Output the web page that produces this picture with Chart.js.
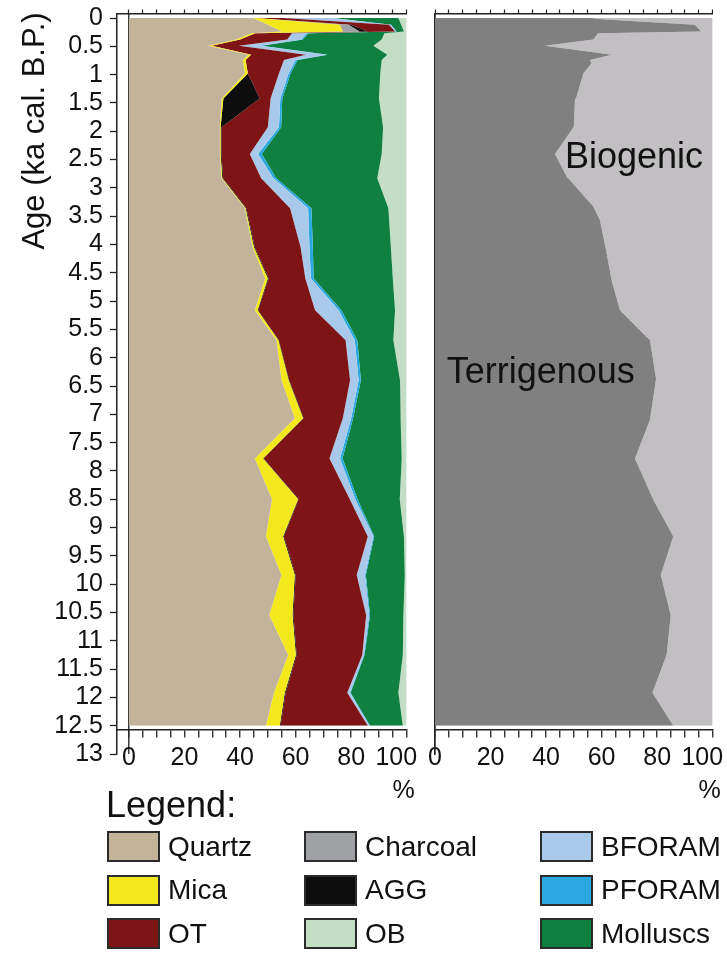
<!DOCTYPE html>
<html>
<head>
<meta charset="utf-8">
<title>Sediment composition vs age</title>
<script src="https://cdn.jsdelivr.net/npm/chart.js@4/dist/chart.umd.min.js"></script>
<style>
  body { margin: 0; background: #fff; font-family: "Liberation Sans", Arial, sans-serif; color: #111; }
  #page { position: relative; width: 727px; height: 974px; overflow: hidden; }
  canvas { position: absolute; top: 0; }
  #leftChart { left: 0; }
  #rightChart { left: 420px; }
  #legendTitle { position: absolute; left: 106px; top: 784px; font-size: 36px; }
  #legend { position: absolute; left: 107px; top: 825px; display: grid;
            grid-template-columns: 197px 236px auto; grid-auto-rows: 43.5px; }
  .item { display: flex; align-items: center; font-size: 28px; }
  .swatch { width: 49px; height: 27px; border: 2px solid #2b2b2b; margin-right: 8px; }
</style>
</head>
<body>
<div id="page">
  <canvas id="leftChart" width="420" height="800"></canvas>
  <canvas id="rightChart" width="307" height="800"></canvas>
  <div id="legendTitle">Legend:</div>
  <div id="legend"></div>
</div>
<script>
// ---- data (percent) ----
const ages = [0, 0.12, 0.24, 0.27, 0.38, 0.49, 0.65, 0.74, 0.98, 1.42, 1.93, 2.4, 2.83, 3.36, 4.05, 4.6,
              5.16, 5.69, 6.4, 7.07, 7.78, 8.5, 9.16, 9.84, 10.55, 11.25, 11.92, 12.5];
const quartz   = [44.7, 50, 55, 44, 38.5, 28.5, 43, 41, 41.7, 33.4, 32.7, 32.7, 33.3, 41.7, 44.5, 49,
                  45.3, 53.1, 54.9, 59.7, 45.3, 51.5, 49.3, 54.9, 50.5, 57.3, 52.2, 49.3];
const mica     = [0.8, 26, 22, 1.5, 1.5, 1.3, 1, 1, 1.1, 0.6, 0.3, 0.3, 0.3, 0.3, 0.5, 1,
                  1, 0.7, 2.6, 3, 3, 9.4, 6.2, 4.8, 8.4, 2.8, 3.9, 5];
const charcoal = [0, 3, 6, 0, 0, 0, 0, 0, 0, 0, 0, 0, 0, 0, 0, 0,
                  0, 0, 0, 0, 0, 0, 0, 0, 0, 0, 0, 0];
const agg      = [0, 1, 3, 0, 0, 0, 0, 0, 0, 13.1, 0.3, 0.3, 0.3, 0.3, 0.3, 0.3,
                  0.2, 0.2, 0.2, 0.2, 0.2, 0.2, 0.3, 0.3, 0.3, 0.3, 0.3, 0.3];
const ot       = [10, 13.6, 9.8, 13.2, 17, 9.8, 19.7, 13.8, 11.2, 3.9, 16.7, 10.2, 13.7, 15.7, 16.5, 13.2,
                  20.5, 24, 21.9, 14.1, 23.7, 18.4, 30.2, 22, 26.2, 23.6, 22.2, 31.4];
const bforam   = [17.5, 0.6, 0.4, 5.3, 5, 7.4, 7.3, 4.2, 3.5, 3.5, 4, 3, 4.4, 6.5, 3.2, 2,
                  8.5, 3.3, 3.1, 3, 3.8, 2, 2, 3, 1.1, 0.6, 1, 0.6];
const pforam   = [0.5, 0.2, 0.2, 0.6, 0.6, 0.8, 0.6, 0.7, 0.7, 0.7, 0.8, 1.3, 1, 1.2, 1.2, 1,
                  1, 0.9, 0.8, 0.7, 0.9, 0.8, 0.3, 0.3, 0.3, 0.2, 0.2, 0.2];
const molluscs = [23.5, 3.6, 2.6, 27.4, 28.4, 40.2, 21.4, 30.3, 32.3, 34.8, 36.7, 43.2, 36.4, 27.7, 28.1, 28.5,
                  19.3, 13, 14.1, 17.1, 21.3, 15.2, 10.7, 14, 12, 13.8, 17.2, 11.8];
const ob       = [3, 2, 1, 8, 9, 12, 7, 9, 9.5, 10, 8.5, 9, 10.6, 6.6, 5.7, 5,
                  4.2, 4.8, 2.4, 2.2, 1.8, 2.5, 1, 0.7, 1.2, 1.4, 3, 1.4];

const terrAges    = [0, 0.02, 0.12, 0.24, 0.27, 0.38, 0.49, 0.65, 0.74, 0.8, 0.98, 1.39, 1.45, 1.92, 2.4, 2.8,
                     3.33, 3.57, 4.1, 4.63, 5.16, 5.69, 6.37, 7.1, 7.78, 8.52, 9.16, 9.84, 10.55, 11.25, 11.92, 12.5];
const terrigenous = [56.4, 60, 93.6, 95.8, 58.7, 57, 39.6, 63.7, 55.8, 56.4, 53.4, 51, 50.4, 50, 43.2, 47.4,
                     57, 59.4, 61.6, 63.6, 66.6, 77.4, 79.6, 77.4, 72, 78.7, 85.8, 81.3, 84.9, 83.4, 78.3, 85.8];
const biogenic    = [43.6, 40, 6.4, 4.2, 41.3, 43, 60.4, 36.3, 44.2, 43.6, 46.6, 49, 49.6, 50, 56.8, 52.6,
                     43, 40.6, 38.4, 36.4, 33.4, 22.6, 20.4, 22.6, 28, 21.3, 14.2, 18.7, 15.1, 16.6, 21.7, 14.2];

// axis ticks
const ageTicks = [0, 0.5, 1, 1.5, 2, 2.5, 3, 3.5, 4, 4.5, 5, 5.5, 6, 6.5, 7, 7.5, 8, 8.5, 9, 9.5,
                  10, 10.5, 11, 11.5, 12, 12.5, 13];
const pctTicks = [0, 5, 10, 15, 20, 25, 30, 35, 40, 45, 50, 55, 60, 65, 70, 75, 80, 85, 90, 95, 100];
const pctLabels = [0, 20, 40, 60, 80, 100];

// stacking order, left to right
const components = [
  { name: 'Quartz',   values: quartz,   color: '#c4b39b' },
  { name: 'Mica',     values: mica,     color: '#f3e81c' },
  { name: 'Charcoal', values: charcoal, color: '#a0a1a4' },
  { name: 'AGG',      values: agg,      color: '#0d0d0d' },
  { name: 'OT',       values: ot,       color: '#7f1417' },
  { name: 'BFORAM',   values: bforam,   color: '#a8c9ea' },
  { name: 'PFORAM',   values: pforam,   color: '#29a9e0' },
  { name: 'Molluscs', values: molluscs, color: '#0f8040' },
  { name: 'OB',       values: ob,       color: '#c3dec4' }
];
const fractions = [
  { name: 'Terrigenous', values: terrigenous, color: '#808080' },
  { name: 'Biogenic',    values: biogenic,    color: '#c1bfc1' }
];
const legendOrder = ['Quartz', 'Charcoal', 'BFORAM', 'Mica', 'AGG', 'PFORAM', 'OT', 'OB', 'Molluscs'];

// ---- shared chart settings ----
const FONT = '"Liberation Sans", Arial, sans-serif';
const AXIS_COLOR = '#222';
const AGE_MIN = -0.08;      // frame sits a little above 0 ka
const AGE_AT_XAXIS = 12.58; // x axis crosses just below the last sample

function noPadding(scale) {
  scale.paddingLeft = scale.paddingRight = scale.paddingTop = scale.paddingBottom = 0;
}
function useTicks(list) {
  return scale => { scale.ticks = list.map(v => ({ value: v })); };
}

function stackedDatasets(list, yVals) {
  return list.map((s, i) => ({
    label: s.name,
    data: s.values.map((v, j) => ({ x: v, y: yVals[j] })),
    xAxisID: 'x',
    yAxisID: 'y',
    backgroundColor: s.color,
    borderWidth: 0,
    pointRadius: 0,
    tension: 0,
    fill: i === 0 ? 'origin' : '-1'
  }));
}

function ageScale(withLabels, width) {
  return {
    type: 'linear', reverse: true, min: AGE_MIN, max: 13,
    afterBuildTicks: useTicks(ageTicks),
    afterFit: s => { noPadding(s); s.width = width; },
    ticks: {
      display: withLabels, autoSkip: false, padding: 7, color: '#111',
      font: { family: FONT, size: 25 },
      callback: v => String(+v.toFixed(1))
    },
    grid: { drawOnChartArea: false, drawTicks: withLabels, tickLength: 7, tickColor: AXIS_COLOR, tickWidth: 1.3 },
    border: { display: true, color: AXIS_COLOR, width: 1.5 }
  };
}

function pctScale(min) {
  return {
    type: 'linear', min: min, max: 100, stacked: true, z: 1,
    position: { y: AGE_AT_XAXIS },
    afterBuildTicks: useTicks(pctTicks),
    afterFit: noPadding,
    ticks: {
      autoSkip: false, maxRotation: 0, minRotation: 0, padding: 6, color: '#111',
      font: { family: FONT, size: 25 },
      // "100" sits a bit left of its tick in the original
      callback: v => pctLabels.includes(v) ? (v === 100 ? '100   ' : String(v)) : ''
    },
    grid: {
      drawOnChartArea: true,
      color: c => (c.tick && c.tick.value === 0) ? '#3a3a3a' : 'rgba(0,0,0,0)',
      lineWidth: 1.5, tickLength: 7, tickColor: AXIS_COLOR, tickWidth: 1.3
    },
    border: { color: AXIS_COLOR, width: 1.5 }
  };
}

function frameScale(min) {
  return {
    type: 'linear', position: 'top', min: min, max: 100,
    afterBuildTicks: useTicks(pctTicks),
    afterFit: s => { noPadding(s); s.height = 4; },
    ticks: { display: false },
    grid: { drawOnChartArea: false, tickLength: 4, tickColor: AXIS_COLOR, tickWidth: 1.2 },
    border: { color: AXIS_COLOR, width: 1.5 }
  };
}

// free text: pixel positions (px/py) or data units (x/y)
const textPlugin = {
  id: 'panelText',
  afterDraw(chart, args, opts) {
    const ctx = chart.ctx;
    (opts.items || []).forEach(t => {
      const px = t.px != null ? t.px : chart.scales.x.getPixelForValue(t.x) + (t.dx || 0);
      const py = t.py != null ? t.py : chart.scales.y.getPixelForValue(t.y);
      ctx.save();
      ctx.fillStyle = '#111';
      ctx.font = t.size + 'px ' + FONT;
      ctx.translate(px, py);
      if (t.rotate) ctx.rotate(-Math.PI / 2);
      ctx.textAlign = t.align || 'left';
      ctx.textBaseline = t.baseline || 'alphabetic';
      ctx.fillText(t.text, 0, 0);
      ctx.restore();
    });
  }
};

function makeChart(id, datasets, opts) {
  return new Chart(document.getElementById(id), {
    type: 'line',
    data: { datasets: datasets },
    plugins: [textPlugin],
    options: {
      indexAxis: 'y',
      responsive: false,
      animation: false,
      events: [],
      layout: { padding: opts.padding },
      scales: {
        x: pctScale(opts.xMin),
        x2: frameScale(opts.xMin),
        y: ageScale(opts.ageLabels, opts.yWidth)
      },
      plugins: {
        legend: { display: false },
        tooltip: { enabled: false },
        panelText: { items: opts.texts }
      }
    }
  });
}

const percentSign = { text: '%', size: 25, x: 100, dx: -3, py: 791, align: 'center', baseline: 'middle' };

makeChart('leftChart', stackedDatasets(components, ages), {
  xMin: -4.3, ageLabels: true, yWidth: 117,
  padding: { left: 0, right: 13.3, top: 9.5, bottom: 46 },
  texts: [
    { text: 'Age (ka cal. B.P.)', size: 31, rotate: true, px: 35, py: 131, align: 'center', baseline: 'middle' },
    percentSign
  ]
});

makeChart('rightChart', stackedDatasets(fractions, terrAges), {
  xMin: 0, ageLabels: false, yWidth: 0,
  padding: { left: 15, right: 14.3, top: 9.5, bottom: 46 },
  texts: [
    { text: 'Biogenic', size: 36, x: 46.8, y: 2.65 },
    { text: 'Terrigenous', size: 36, x: 4.2, y: 6.45 },
    percentSign
  ]
});

// ---- legend ----
const legendEl = document.getElementById('legend');
legendOrder.forEach(name => {
  const c = components.find(s => s.name === name);
  const item = document.createElement('div');
  item.className = 'item';
  item.innerHTML = '<span class="swatch" style="background:' + c.color + '"></span>' + c.name;
  legendEl.appendChild(item);
});
</script>
</body>
</html>
